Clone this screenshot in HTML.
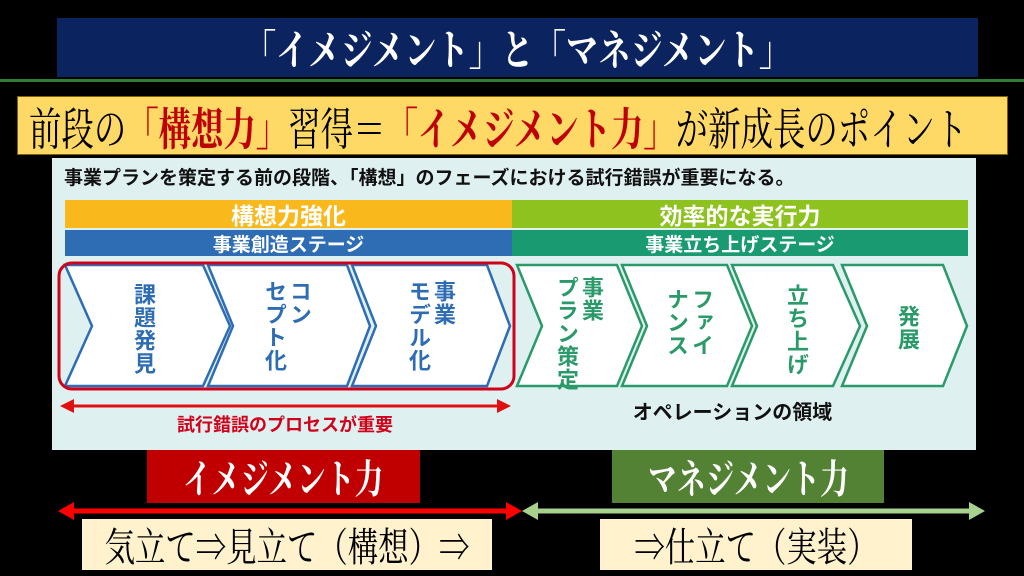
<!DOCTYPE html>
<html><head><meta charset="utf-8"><style>
body{margin:0;width:1024px;height:576px;background:#000;position:relative;overflow:hidden;font-family:"Liberation Sans","Noto Sans CJK JP",sans-serif}
.a{position:absolute}
.serif{font-family:"Liberation Serif","Noto Serif CJK SC",serif}
.c{display:flex;align-items:center;justify-content:center;white-space:nowrap}
.sq{display:inline-block;transform:scaleX(0.78)}
.v{position:absolute;writing-mode:vertical-rl;font-weight:bold;font-size:22px;line-height:25px;letter-spacing:1px}
</style></head><body>
<div class="a c serif" style="left:57px;top:18px;width:921px;height:59px;background:#0b2460;color:#fff;font-size:42px;font-weight:bold"><span class="sq" style="transform:scaleX(0.77)">「イメジメント」と「マネジメント」</span></div>
<div class="a" style="left:0;top:79px;width:1024px;height:3px;background:#2e7d32"></div>
<div class="a c serif" style="left:17px;top:96px;width:989px;height:57px;background:#ffd966;border:1px solid #7f6000;color:#000;font-size:45px"><span class="sq" style="transform:scaleX(0.72) translateX(-20px)">前段の<b style="color:#c00000">「構想力」</b>習得＝<b style="color:#c00000">「イメジメント力」</b>が新成長のポイント</span></div>
<div class="a" style="left:52px;top:158px;width:924px;height:292px;background:#dff0f0"></div>
<div class="a" style="left:64px;top:163px;font-size:19px;font-weight:bold;color:#111;white-space:nowrap">事業プランを策定する前の段階、「構想」のフェーズにおける試行錯誤が重要になる。</div>
<div class="a c" style="left:65px;top:200px;width:447px;height:28px;background:#f9b81b;color:#fff;font-weight:bold;font-size:23px">構想力強化</div>
<div class="a c" style="left:512px;top:200px;width:456px;height:28px;background:#8dc21f;color:#fff;font-weight:bold;font-size:23px">効率的な実行力</div>
<div class="a c" style="left:65px;top:230px;width:447px;height:26px;background:#2e6db4;color:#fff;font-weight:bold;font-size:19px">事業創造ステージ</div>
<div class="a c" style="left:512px;top:230px;width:456px;height:26px;background:#1a9a70;color:#fff;font-weight:bold;font-size:19px">事業立ち上げステージ</div>
<svg class="a" style="left:0;top:0" width="1024" height="576">
<g fill="#fff" stroke-width="2.5">
<polygon stroke="#2e6db4" points="65,265 203,265 230,326 203,386 65,386 92,326"/>
<polygon stroke="#2e6db4" points="208,265 347,265 370,326 347,386 208,386 233,326"/>
<polygon stroke="#2e6db4" points="352,265 487,265 510,326 487,386 352,386 376,326"/>
<polygon stroke="#2a9a6a" points="517,265 617,265 642,326 617,386 517,386 542,326"/>
<polygon stroke="#2a9a6a" points="622,265 727,265 752,326 727,386 622,386 647,326"/>
<polygon stroke="#2a9a6a" points="732,265 833,265 860,326 833,386 732,386 757,326"/>
<polygon stroke="#2a9a6a" points="842,265 943,265 967,326 943,386 842,386 867,326"/>
</g>
<rect x="59" y="263" width="455" height="126" rx="13" fill="none" stroke="#d0021b" stroke-width="3"/>
<line x1="70" y1="406" x2="500" y2="406" stroke="#e01010" stroke-width="3"/>
<polygon points="60,406 74,399 74,413" fill="#e01010"/><polygon points="511,406 497,399 497,413" fill="#e01010"/>
<line x1="70" y1="511" x2="510" y2="511" stroke="#ff0000" stroke-width="5"/>
<polygon points="58,511 74,502 74,520" fill="#ff0000"/><polygon points="522,511 506,502 506,520" fill="#ff0000"/>
<line x1="534" y1="511" x2="972" y2="511" stroke="#a9d18e" stroke-width="5"/>
<polygon points="522,511 538,502 538,520" fill="#a9d18e"/><polygon points="985,511 969,502 969,520" fill="#a9d18e"/>
</svg>
<div class="v" style="left:131px;top:283px;color:#2e6db4">課題発見</div>
<div class="v" style="left:262px;top:280px;color:#2e6db4">コン<br>セプト化</div>
<div class="v" style="left:406px;top:280px;color:#2e6db4">事業<br>モデル化</div>
<div class="v" style="left:554px;top:276px;color:#2a9a6a">事業<br>プラン策定</div>
<div class="v" style="left:664px;top:288px;color:#2a9a6a">ファイ<br>ナンス</div>
<div class="v" style="left:784px;top:284px;color:#2a9a6a">立ち上げ</div>
<div class="v" style="left:895px;top:305px;color:#2a9a6a">発展</div>
<div class="a c" style="left:60px;top:413px;width:450px;height:22px;color:#d0021b;font-weight:bold;font-size:18px">試行錯誤のプロセスが重要</div>
<div class="a c" style="left:600px;top:399px;width:265px;height:22px;color:#111;font-weight:bold;font-size:20px">オペレーションの領域</div>
<div class="a c serif" style="left:147px;top:450px;width:273px;height:53px;background:#c00000;color:#fff;font-size:40px;font-weight:bold"><span class="sq" style="transform:scaleX(0.72)">イメジメント力</span></div>
<div class="a c serif" style="left:612px;top:450px;width:272px;height:53px;background:#548235;color:#fff;font-size:40px;font-weight:bold"><span class="sq" style="transform:scaleX(0.72)">マネジメント力</span></div>
<div class="a c serif" style="left:82px;top:519px;width:410px;height:51px;background:#fff2cc;color:#000;font-size:40px"><span class="sq" style="transform:scaleX(0.76)">気立て⇒見立て（構想）⇒</span></div>
<div class="a c serif" style="left:600px;top:519px;width:312px;height:51px;background:#fff2cc;color:#000;font-size:40px"><span class="sq" style="transform:scaleX(0.76)">⇒仕立て（実装）</span></div>
</body></html>
